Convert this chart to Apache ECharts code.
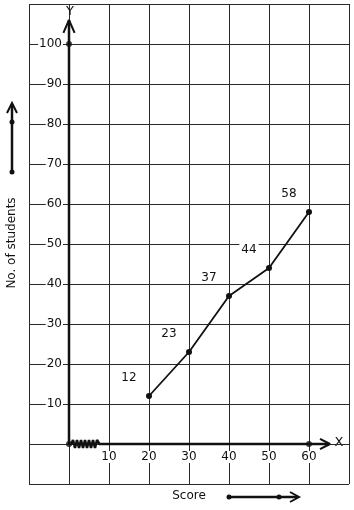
<!DOCTYPE html>
<html>
<head>
<meta charset="utf-8">
<script src="https://cdn.jsdelivr.net/npm/echarts@6/dist/echarts.min.js"></script>
<style>
  html, body { margin: 0; padding: 0; background: #fff; }
  #chart { width: 354px; height: 510px; }
</style>
</head>
<body>
<div id="chart"></div>
<script>
// data
const scores = [20, 30, 40, 50, 60]
const students = [12, 23, 37, 44, 58]
const xTickLabels = [10, 20, 30, 40, 50, 60]
const yTickLabels = [10, 20, 30, 40, 50, 60, 70, 80, 90, 100]

// axis decorations (data coordinates)
const xAxisPath = [[0, 0], [0.6, 0], [1, 1], [1.5, -1], [2, 1], [2.5, -1], [3, 1], [3.5, -1],
  [4, 1], [4.5, -1], [5, 1], [5.5, -1], [6, 1], [6.5, -1], [7, 1], [7.6, 0], [65, 0]]
const yAxisPath = [[0, 0], [0, 106]]
const xArrow = [[62.75, 1.3], [65.25, 0], [62.75, -1.3]]
const yArrow = [[-1.4, 102.8], [0, 106], [1.4, 102.8]]
const axisDots = [[0, 0], [0, 100], [60, 0]]

const font = 'DejaVu Sans'
const ink = '#111'

const chart = echarts.init(document.getElementById('chart'), null, { renderer: 'canvas' })

const decoLine = (data, width) => ({
  type: 'line',
  data,
  symbol: 'none',
  clip: false,
  silent: true,
  lineStyle: { color: ink, width },
  z: 3
})

chart.setOption({
  animation: false,
  backgroundColor: '#fff',
  grid: { left: 29, right: 5, top: 4, bottom: 26 },
  xAxis: {
    type: 'value',
    min: -10,
    max: 70,
    interval: 10,
    offset: -40,
    axisLine: { show: false },
    axisTick: { show: false },
    splitLine: { show: true, lineStyle: { color: '#2a2a2a', width: 1 } },
    axisLabel: {
      margin: 7,
      color: ink,
      fontFamily: font,
      fontSize: 12,
      backgroundColor: '#fff',
      padding: [0, 1],
      formatter: v => xTickLabels.includes(v) ? String(v) : ''
    }
  },
  yAxis: {
    type: 'value',
    min: -10,
    max: 110,
    interval: 10,
    offset: -40,
    axisLine: { show: false },
    axisTick: { show: false },
    splitLine: { show: true, lineStyle: { color: '#2a2a2a', width: 1 } },
    axisLabel: {
      margin: 6,
      color: ink,
      fontFamily: font,
      fontSize: 12,
      backgroundColor: '#fff',
      padding: [0, 1],
      formatter: v => yTickLabels.includes(v) ? String(v) : ''
    }
  },
  series: [
    decoLine(xAxisPath, 2.5),
    decoLine(yAxisPath, 2.5),
    decoLine(xArrow, 2),
    decoLine(yArrow, 2),
    {
      type: 'scatter',
      data: axisDots,
      symbol: 'circle',
      symbolSize: 6,
      itemStyle: { color: ink },
      silent: true,
      z: 4
    },
    {
      type: 'line',
      data: scores.map((s, i) => [s, students[i]]),
      symbol: 'circle',
      symbolSize: 6,
      showAllSymbol: true,
      lineStyle: { color: ink, width: 1.8 },
      itemStyle: { color: ink },
      label: {
        show: true,
        position: 'inside',
        offset: [-20, -18],
        color: ink,
        fontFamily: font,
        fontSize: 12,
        backgroundColor: '#fff',
        padding: [0, 2],
        formatter: p => String(p.value[1])
      },
      z: 5
    }
  ],
  graphic: [
    { type: 'text', x: 70, y: 5, z: 10, style: { text: 'Y', font: '13px DejaVu Sans', fill: ink, align: 'center', verticalAlign: 'top' } },
    { type: 'text', x: 339, y: 443, style: { text: 'X', font: '13px DejaVu Sans', fill: ink, align: 'center', verticalAlign: 'middle', backgroundColor: '#fff' } },
    { type: 'text', x: 12, y: 243, rotation: Math.PI / 2, style: { text: 'No. of students', font: '12px DejaVu Sans', fill: ink, align: 'center', verticalAlign: 'middle' } },
    { type: 'text', x: 189, y: 496, style: { text: 'Score', font: '12px DejaVu Sans', fill: ink, align: 'center', verticalAlign: 'middle' } },
    // left arrow
    { type: 'line', shape: { x1: 12, y1: 104, x2: 12, y2: 172 }, style: { stroke: ink, lineWidth: 2.5 } },
    { type: 'polyline', shape: { points: [[7, 113], [12, 103], [17, 113]] }, style: { stroke: ink, lineWidth: 2, fill: null } },
    { type: 'circle', shape: { cx: 12, cy: 122, r: 2.5 }, style: { fill: ink } },
    { type: 'circle', shape: { cx: 12, cy: 172, r: 2.5 }, style: { fill: ink } },
    // score arrow
    { type: 'line', shape: { x1: 229, y1: 497, x2: 298, y2: 497 }, style: { stroke: ink, lineWidth: 2.5 } },
    { type: 'polyline', shape: { points: [[290, 492], [299, 497], [290, 502]] }, style: { stroke: ink, lineWidth: 2, fill: null } },
    { type: 'circle', shape: { cx: 229, cy: 497, r: 2.5 }, style: { fill: ink } },
    { type: 'circle', shape: { cx: 279, cy: 497, r: 2.5 }, style: { fill: ink } }
  ]
})
</script>
</body>
</html>
